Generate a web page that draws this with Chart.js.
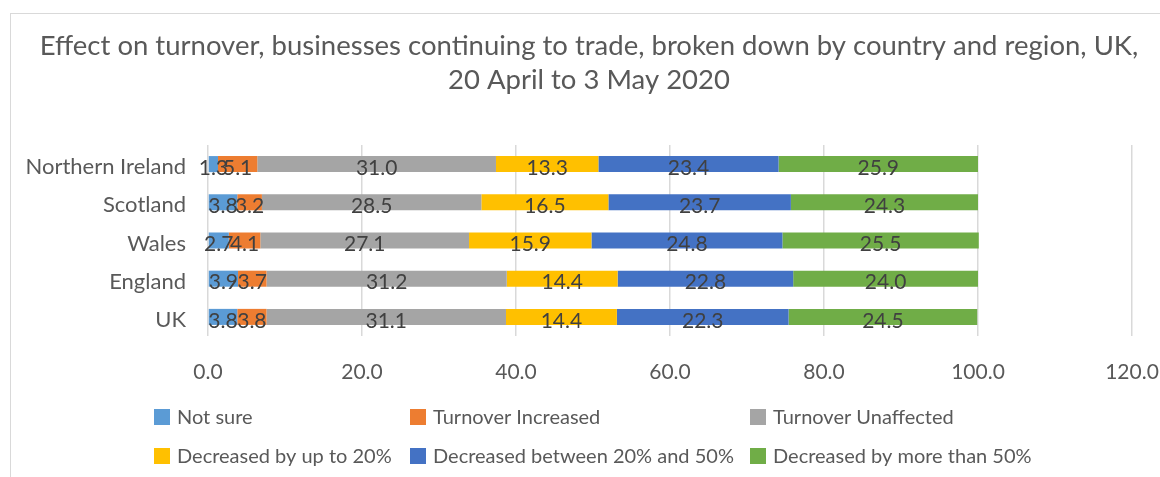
<!DOCTYPE html>
<html>
<head>
<meta charset="utf-8">
<script src="https://cdn.jsdelivr.net/npm/chart.js@4.4.1/dist/chart.umd.min.js"></script>
<style>
  body { margin: 0; background: #ffffff; overflow: hidden; }
  #frame { position: absolute; left: 10px; top: 13px; width: 1200px; height: 520px;
           border-left: 1px solid #d9d9d9; border-top: 1px solid #d9d9d9; }
  #chart { position: absolute; left: 0; top: 0; }
</style>
</head>
<body>
<div id="frame"></div>
<canvas id="chart" width="1160" height="477"></canvas>
<script>
const FONT = "Lato, 'Open Sans', sans-serif";

const TITLE_LINES = [
  "Effect on turnover, businesses continuing to trade, broken down by country and region, UK,",
  "20 April to 3 May 2020",
];

const regions = ["Northern Ireland", "Scotland", "Wales", "England", "UK"];

const seriesNames = [
  "Not sure",
  "Turnover Increased",
  "Turnover Unaffected",
  "Decreased by up to 20%",
  "Decreased between 20% and 50%",
  "Decreased by more than 50%",
];

const notSure        = [1.3, 3.8, 2.7, 3.9, 3.8];
const increased      = [5.1, 3.2, 4.1, 3.7, 3.8];
const unaffected     = [31.0, 28.5, 27.1, 31.2, 31.1];
const downTo20       = [13.3, 16.5, 15.9, 14.4, 14.4];
const down20to50     = [23.4, 23.7, 24.8, 22.8, 22.3];
const downMoreThan50 = [25.9, 24.3, 25.5, 24.0, 24.5];

const xTicks = [0, 20, 40, 60, 80, 100, 120];

const seriesValues = [notSure, increased, unaffected, downTo20, down20to50, downMoreThan50];
const seriesColors = ["#5b9bd5", "#ed7d31", "#a5a5a5", "#ffc000", "#4472c4", "#70ad47"];

// title, value labels and the 3-column legend are drawn by hand
const extras = {
  id: "extras",
  afterDatasetsDraw(chart) {
    const ctx = chart.ctx;
    ctx.save();

    ctx.fillStyle = "#404040";
    ctx.font = "21px " + FONT;
    ctx.textAlign = "center";
    ctx.textBaseline = "middle";
    chart.data.datasets.forEach((ds, i) => {
      chart.getDatasetMeta(i).data.forEach((bar, j) => {
        const cx = (bar.x + bar.base) / 2;
        ctx.fillText(ds.data[j].toFixed(1), cx, bar.y + 4);
      });
    });

    ctx.fillStyle = "#595959";
    ctx.font = "27.5px " + FONT;
    TITLE_LINES.forEach((line, i) => ctx.fillText(line, 589, 46 + i * 34));

    const cols = [154, 410, 750];
    const rows = [417, 456];
    ctx.font = "20px " + FONT;
    ctx.textAlign = "left";
    chart.data.datasets.forEach((ds, i) => {
      const x = cols[i % 3];
      const y = rows[Math.floor(i / 3)];
      ctx.fillStyle = ds.backgroundColor;
      ctx.fillRect(x, y - 8, 16, 16);
      ctx.fillStyle = "#595959";
      ctx.fillText(ds.label, x + 23, y + 1);
    });

    ctx.restore();
  },
};

new Chart(document.getElementById("chart"), {
  type: "bar",
  data: {
    labels: regions,
    datasets: seriesNames.map((name, i) => ({
      label: name,
      data: seriesValues[i],
      backgroundColor: seriesColors[i],
      borderWidth: 0,
      barPercentage: 0.42,
      categoryPercentage: 1.0,
    })),
  },
  options: {
    indexAxis: "y",
    responsive: false,
    animation: false,
    layout: { padding: { top: 145, left: 0, right: 28, bottom: 0 } },
    plugins: {
      legend: { display: false },
      title: { display: false },
      tooltip: { enabled: false },
    },
    scales: {
      x: {
        stacked: true,
        min: 0,
        max: 120,
        afterBuildTicks(axis) { axis.ticks = xTicks.map((v) => ({ value: v })); },
        afterFit(axis) {
          axis.height = 141;
          axis.paddingLeft = 0;
          axis.paddingRight = 0;
        },
        border: { display: false },
        grid: { color: "#d9d9d9", lineWidth: 1.5, drawTicks: false },
        ticks: {
          padding: 24,
          color: "#595959",
          font: { family: FONT, size: 21 },
          callback: (v) => Number(v).toFixed(1),
        },
      },
      y: {
        stacked: true,
        afterFit(axis) { axis.width = 208; },
        border: { display: false },
        grid: { display: false, drawTicks: false },
        ticks: {
          padding: 22,
          labelOffset: 3,
          color: "#595959",
          font: { family: FONT, size: 22 },
        },
      },
    },
  },
  plugins: [extras],
});
</script>
</body>
</html>
